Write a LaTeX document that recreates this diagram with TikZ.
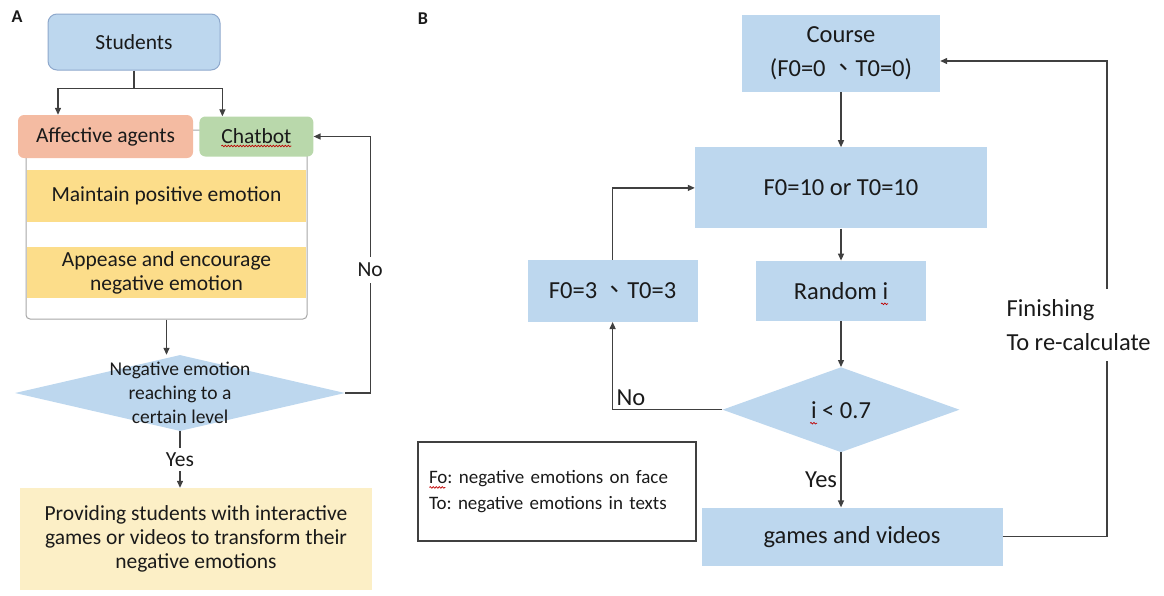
\documentclass[tikz,border=0pt]{standalone}
\usepackage{fontspec}
\setmainfont{Carlito}
\newfontfamily\cjk{Noto Sans CJK TC}
\usepackage{xcolor}
\usetikzlibrary{positioning,shapes.geometric,arrows.meta,decorations.pathmorphing}
\definecolor{boxblue}{HTML}{BDD7EE}
\definecolor{bluebd}{HTML}{8EA8CC}
\definecolor{agentc}{HTML}{F4BBA2}
\definecolor{chatc}{HTML}{B9D8AB}
\definecolor{yelc}{HTML}{FCDD8A}
\definecolor{provc}{HTML}{FCEFC6}
\definecolor{framec}{HTML}{A6A6A6}
\definecolor{linec}{HTML}{404040}
\definecolor{inkc}{HTML}{1A1A1A}
\frenchspacing

\begin{document}
\begin{tikzpicture}[x=1pt, y=-1pt, node distance=10pt,
  >={Triangle[length=7pt,width=6pt]},
  every node/.style={text=inkc},
  conn/.style={draw=linec, line width=1.3pt},
  afont/.style={font=\fontsize{21.5}{24}\selectfont},
  dfont/.style={font=\fontsize{19.5}{24}\selectfont},
  bfont/.style={font=\fontsize{24.5}{34}\selectfont},
  abox/.style={afont, align=center, inner sep=0pt},
  bbox/.style={fill=boxblue, bfont, align=center, inner sep=0pt},
  squig/.style={draw=red!75!black, line width=0.7pt, decorate,
    decoration={snake, amplitude=0.8pt, segment length=3pt}}]
\useasboundingbox (0,0) rectangle (1164,595);

\node[font=\bfseries\fontsize{18}{18}\selectfont] (lA) at (17,17) {A};
\node[font=\bfseries\fontsize{18}{18}\selectfont] (lB) at (423,19) {B};

% panel A
\node[abox, fill=boxblue, draw=bluebd, line width=1pt, rounded corners=9pt, minimum width=172pt, minimum height=56pt] (stud) at (134,42) {Students};
\node[draw=framec, line width=1pt, rounded corners=4pt, minimum width=281pt, minimum height=189pt, inner sep=0pt] (frame) at (166.5,224.5) {};
\node[abox, fill=agentc, rounded corners=6pt, minimum width=175pt, minimum height=43pt] (agents) at (105.5,136.5) {Affective agents};
\node[abox, fill=chatc, rounded corners=6pt, minimum width=114pt, minimum height=40pt, right=6pt of agents] (chat) {Chatbot};
\node[abox, fill=yelc, minimum width=279pt, minimum height=52pt] (keep) at (166.5,196) {Maintain positive emotion};
\node[abox, fill=yelc, minimum width=279pt, minimum height=51pt, below=25pt of keep] (appease) {Appease and encourage\\negative emotion};
\node[diamond, fill=boxblue, minimum width=330pt, minimum height=76pt, inner sep=0pt,
  label={[dfont, align=center]center:{Negative emotion\\reaching to a\\certain level}}] (neg) at (180,393) {};
\node[abox, fill=provc, minimum width=352pt, minimum height=102pt] (prov) at (196,539) {Providing students with interactive\\games or videos to transform their\\negative emotions};

\coordinate (split) at ([yshift=-18pt]stud.south);
\draw[conn] (stud.south) -- (split);
\draw[conn,->] (split) -| ([xshift=-47.5pt]agents.north);
\draw[conn,->] (split) -| ([xshift=-34pt]chat.north);
\draw[conn,->] (frame.south) -- (frame.south |- neg.north);
\draw[conn,->] (neg.east) -- ++(25,0) |- node[pos=0.24, fill=white, afont, inner xsep=1pt, inner ysep=6pt] {No} (chat.east);
\draw[conn,->] (neg.south) -- node[fill=white, afont, inner xsep=1pt, inner ysep=5pt] {Yes} (neg.south |- prov.north);
\draw[squig] ([shift={(-35,9.5)}]chat.center) -- ([shift={(35,9.5)}]chat.center);

% panel B
\node[bbox, minimum width=198pt, minimum height=77pt] (course) at (841,53.5) {Course\\(F0=0 {\cjk 、}T0=0)};
\node[bbox, minimum width=292pt, minimum height=81pt, below=55pt of course] (ften) {F0=10 or T0=10};
\node[bbox, minimum width=170pt, minimum height=60pt, below=32pt of ften] (rand) {Random i};
\node[diamond, fill=boxblue, bfont, aspect=2.8, minimum width=237pt, minimum height=85pt, inner sep=0pt, below=46pt of rand] (test) {i < 0.7};
\node[bbox, minimum width=301pt, minimum height=58pt, below=55pt of test, xshift=11pt] (games) {games and videos};
\node[bbox, minimum width=170pt, minimum height=62pt, left=58pt of rand] (fthree) {F0=3 {\cjk 、}T0=3};
\node[draw=linec, line width=1.2pt, align=left, font=\fontsize{19}{26}\selectfont, text width=256pt, inner xsep=11pt, minimum height=99pt] (key) at (557,491.5) {Fo: negative emotions on face\\To: negative emotions in texts};
\node[bfont, align=left, anchor=west, inner ysep=10pt] (fin) at (1003,325) {Finishing\\To re-calculate};
\coordinate (rt) at (1107,61);

\draw[conn,->] (course) -- (ften);
\draw[conn,->] (ften) -- (rand);
\draw[conn,->] (rand) -- (test);
\draw[conn,->] (test.south) -- node[left, bfont] {Yes} (test.south |- games.north);
\draw[conn,->] (fthree.north) |- (ften.west);
\draw[conn,->] (test.west) -| node[pos=0.5, above right, bfont] {No} (fthree.south);
\draw[conn] (games.east) -| (rt |- fin.south);
\draw[conn,->] (rt |- fin.north) -- (rt) -- (course.east |- rt);
\draw[squig] ([shift={(40,13)}]rand.center) -- ([shift={(47,13)}]rand.center);
\draw[squig] ([shift={(-31,13.5)}]test.center) -- ([shift={(-24,13.5)}]test.center);
\draw[squig] ([shift={(12,46)}]key.north west) -- ([shift={(28,46)}]key.north west);
\end{tikzpicture}
\end{document}
